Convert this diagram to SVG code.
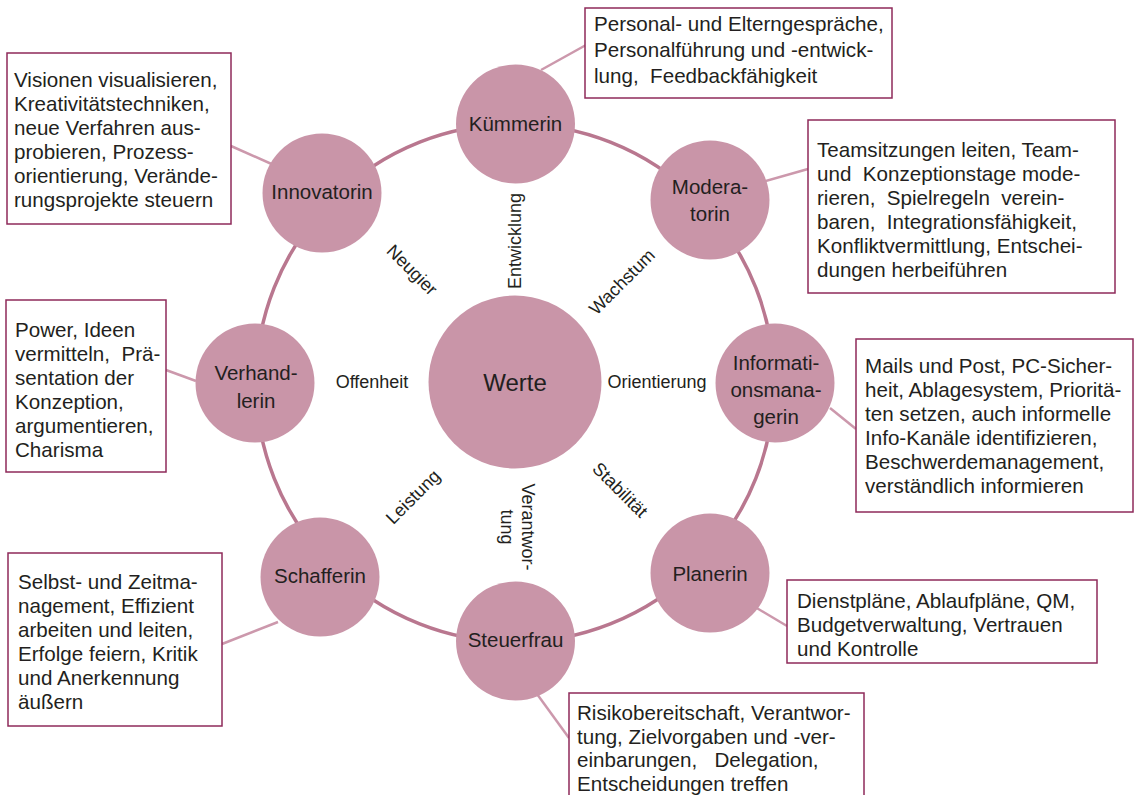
<svg xmlns="http://www.w3.org/2000/svg" width="1140" height="795" viewBox="0 0 1140 795">
<style>
text{font-family:"Liberation Sans",Arial,sans-serif;fill:#231F20}
.box{fill:#fff;stroke:#8E2A5A;stroke-width:1.5}
.bt{font-size:20.6px;white-space:pre}
.node{fill:#C995A8}
.nl{font-size:20.5px;text-anchor:middle}
.el{font-size:18px;text-anchor:middle;dominant-baseline:central}
.ring{fill:none;stroke:#B9778F;stroke-width:3.5}
.lead{stroke:#CC98AC;stroke-width:2.5;fill:none}
</style>
<rect width="1140" height="795" fill="#fff"/>
<g id="connectors">
<circle class="ring" cx="515" cy="383" r="259"/>
<line class="lead" x1="541" y1="70" x2="586" y2="45"/>
<line class="lead" x1="231" y1="146" x2="276" y2="166"/>
<line class="lead" x1="762" y1="182" x2="808" y2="169"/>
<line class="lead" x1="830" y1="408" x2="856" y2="429"/>
<line class="lead" x1="755" y1="607" x2="787" y2="626"/>
<line class="lead" x1="537" y1="694" x2="569" y2="738"/>
<line class="lead" x1="278" y1="622" x2="222" y2="644"/>
<line class="lead" x1="166" y1="370" x2="196" y2="381"/>
</g>
<g id="edge-labels">
<text class="el" transform="translate(515,241) rotate(-90)">Entwicklung</text>
<text class="el" transform="translate(412,270) rotate(45)">Neugier</text>
<text class="el" transform="translate(622,282) rotate(-45)">Wachstum</text>
<text class="el" x="372" y="382">Offenheit</text>
<text class="el" x="657" y="382">Orientierung</text>
<text class="el" transform="translate(413,497) rotate(-45)">Leistung</text>
<text class="el" transform="translate(620,490) rotate(45)">Stabilität</text>
<text class="el" transform="translate(528,527) rotate(90)">Verantwor-</text>
<text class="el" transform="translate(507,527) rotate(90)">tung</text>
</g>
<g id="werte"><circle class="node" cx="515" cy="382" r="86.5"/><text x="515" y="391" style="font-size:24px;text-anchor:middle">Werte</text></g>
<g id="kuemmerin"><circle class="node" cx="515.5" cy="124" r="59.5"/><text class="nl" x="515.5" y="131">Kümmerin</text></g>
<g id="moderatorin"><circle class="node" cx="710" cy="200" r="59.5"/><text class="nl" x="710" y="194">Modera-</text><text class="nl" x="710" y="221">torin</text></g>
<g id="informationsmanagerin"><circle class="node" cx="775" cy="383" r="59.5"/><text class="nl" x="776" y="370">Informati-</text><text class="nl" x="776" y="397">onsmana-</text><text class="nl" x="776" y="424">gerin</text></g>
<g id="planerin"><circle class="node" cx="710" cy="573" r="59.5"/><text class="nl" x="710" y="581">Planerin</text></g>
<g id="steuerfrau"><circle class="node" cx="515.5" cy="641" r="59.5"/><text class="nl" x="515.5" y="647">Steuerfrau</text></g>
<g id="schafferin"><circle class="node" cx="320" cy="577" r="59.5"/><text class="nl" x="320" y="583">Schafferin</text></g>
<g id="verhandlerin"><circle class="node" cx="255" cy="383" r="59.5"/><text class="nl" x="256" y="380">Verhand-</text><text class="nl" x="256" y="408">lerin</text></g>
<g id="innovatorin"><circle class="node" cx="322" cy="193" r="59.5"/><text class="nl" x="322" y="199">Innovatorin</text></g>
<g id="box-kuemmerin"><rect class="box" x="585" y="8" width="307" height="90"/>
<text class="bt"><tspan x="594" y="31">Personal- und Elterngespräche,</tspan><tspan x="594" y="57">Personalführung und -entwick-</tspan><tspan x="594" y="83">lung,  Feedbackfähigkeit</tspan></text></g>
<g id="box-innovatorin"><rect class="box" x="7" y="53" width="224" height="171"/>
<text class="bt"><tspan x="14" y="87">Visionen visualisieren,</tspan><tspan x="14" y="111">Kreativitätstechniken,</tspan><tspan x="14" y="135">neue Verfahren aus-</tspan><tspan x="14" y="159">probieren, Prozess-</tspan><tspan x="14" y="183">orientierung, Verände-</tspan><tspan x="14" y="207">rungsprojekte steuern</tspan></text></g>
<g id="box-moderatorin"><rect class="box" x="808" y="120" width="307" height="173"/>
<text class="bt"><tspan x="817" y="157">Teamsitzungen leiten, Team-</tspan><tspan x="817" y="181">und  Konzeptionstage mode-</tspan><tspan x="817" y="205">rieren,  Spielregeln  verein-</tspan><tspan x="817" y="229">baren,  Integrationsfähigkeit,</tspan><tspan x="817" y="253">Konfliktvermittlung, Entschei-</tspan><tspan x="817" y="277">dungen herbeiführen</tspan></text></g>
<g id="box-informationsmanagerin"><rect class="box" x="856" y="339" width="277" height="173"/>
<text class="bt"><tspan x="865" y="373">Mails und Post, PC-Sicher-</tspan><tspan x="865" y="397">heit, Ablagesystem, Prioritä-</tspan><tspan x="865" y="421">ten setzen, auch informelle</tspan><tspan x="865" y="445">Info-Kanäle identifizieren,</tspan><tspan x="865" y="469">Beschwerdemanagement,</tspan><tspan x="865" y="493">verständlich informieren</tspan></text></g>
<g id="box-planerin"><rect class="box" x="787" y="580" width="310" height="83"/>
<text class="bt"><tspan x="797" y="608">Dienstpläne, Ablaufpläne, QM,</tspan><tspan x="797" y="632">Budgetverwaltung, Vertrauen</tspan><tspan x="797" y="656">und Kontrolle</tspan></text></g>
<g id="box-steuerfrau"><rect class="box" x="569" y="693" width="295" height="120"/>
<text class="bt"><tspan x="577" y="720">Risikobereitschaft, Verantwor-</tspan><tspan x="577" y="744">tung, Zielvorgaben und -ver-</tspan><tspan x="577" y="767">einbarungen,   Delegation,</tspan><tspan x="577" y="791">Entscheidungen treffen</tspan></text></g>
<g id="box-schafferin"><rect class="box" x="8" y="553" width="214" height="173"/>
<text class="bt"><tspan x="18" y="589">Selbst- und Zeitma-</tspan><tspan x="18" y="613">nagement, Effizient</tspan><tspan x="18" y="637">arbeiten und leiten,</tspan><tspan x="18" y="661">Erfolge feiern, Kritik</tspan><tspan x="18" y="685">und Anerkennung</tspan><tspan x="18" y="709">äußern</tspan></text></g>
<g id="box-verhandlerin"><rect class="box" x="6" y="300" width="160" height="172"/>
<text class="bt"><tspan x="15" y="337">Power, Ideen</tspan><tspan x="15" y="361">vermitteln,  Prä-</tspan><tspan x="15" y="385">sentation der</tspan><tspan x="15" y="409">Konzeption,</tspan><tspan x="15" y="433">argumentieren,</tspan><tspan x="15" y="457">Charisma</tspan></text></g>
</svg>
